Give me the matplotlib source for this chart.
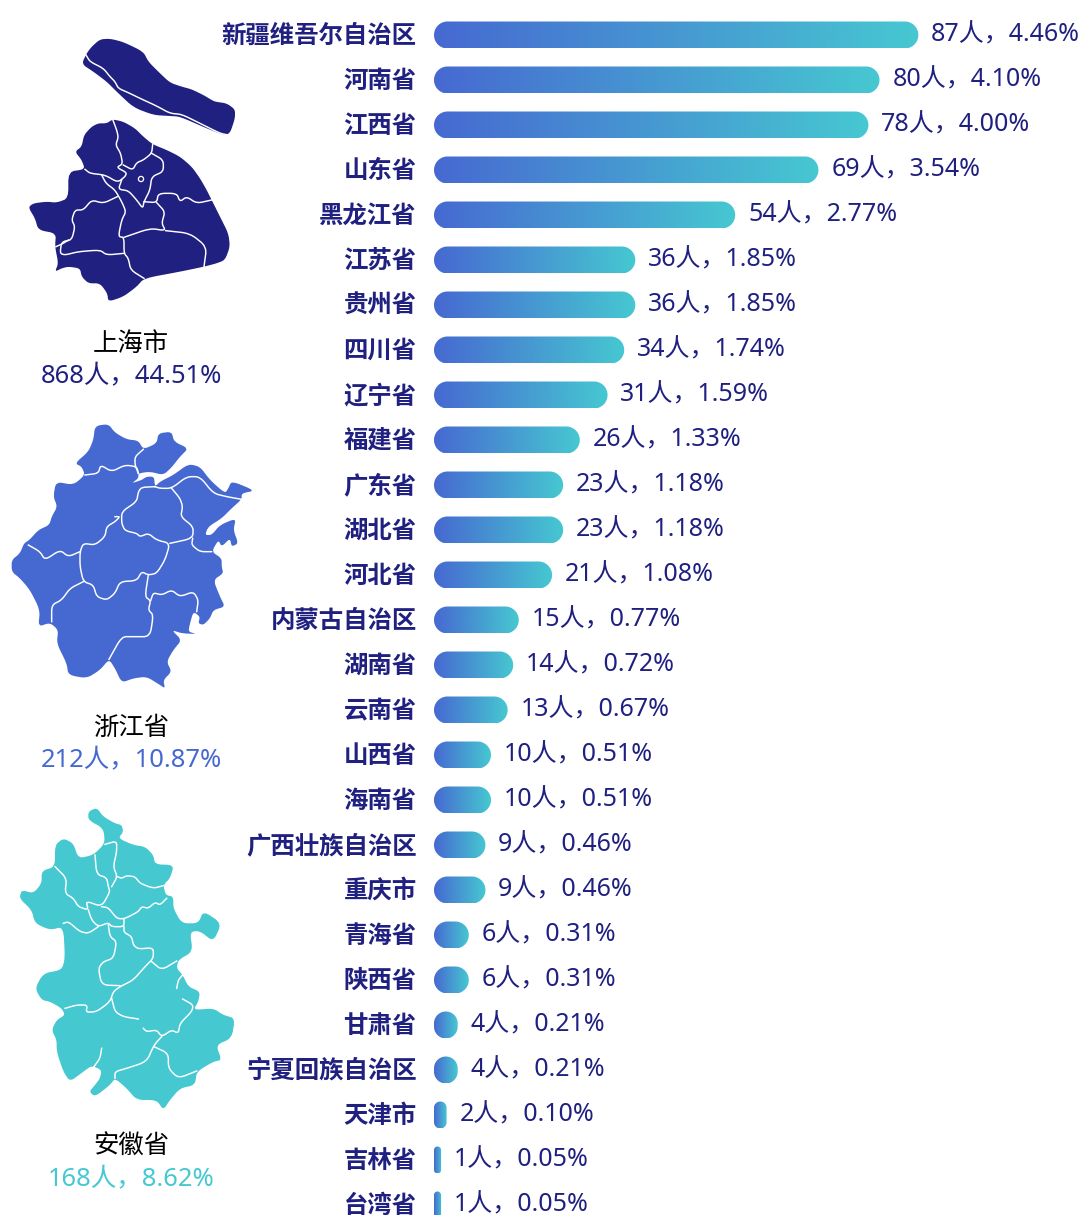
import numpy as np
import matplotlib
matplotlib.use("Agg")
import matplotlib.pyplot as plt
from matplotlib.colors import LinearSegmentedColormap
from matplotlib.patches import Polygon, Circle
from matplotlib.transforms import ScaledTranslation

plt.rcParams['font.family'] = ['Noto Sans', 'Noto Sans CJK SC', 'DejaVu Sans']

# ranking of the other provinces
provinces = ["新疆维吾尔自治区", "河南省", "江西省", "山东省", "黑龙江省", "江苏省", "贵州省", "四川省", "辽宁省",
             "福建省", "广东省", "湖北省", "河北省", "内蒙古自治区", "湖南省", "云南省", "山西省", "海南省",
             "广西壮族自治区", "重庆市", "青海省", "陕西省", "甘肃省", "宁夏回族自治区", "天津市", "吉林省", "台湾省"]
counts = [87, 80, 78, 69, 54, 36, 36, 34, 31, 26, 23, 23, 21, 15, 14, 13, 10, 10, 9, 9, 6, 6, 4, 4, 2, 1, 1]
percents = [4.46, 4.10, 4.00, 3.54, 2.77, 1.85, 1.85, 1.74, 1.59, 1.33, 1.18, 1.18, 1.08, 0.77, 0.72, 0.67,
            0.51, 0.51, 0.46, 0.46, 0.31, 0.31, 0.21, 0.21, 0.10, 0.05, 0.05]

# top three provinces, shown as maps
top_names = ["上海市", "浙江省", "安徽省"]
top_counts = [868, 212, 168]
top_percents = [44.51, 10.87, 8.62]

NAVY = "#1f2080"
BLUE = "#4669d1"
CYAN = "#46c8d1"
W, H = 1085, 1215

# map outlines at 3x: x, y relative to each crop origin
sh_island = [(300,58),(330,56),(370,66),(430,95),(445,125),(480,160),(510,188),(545,200),(575,208),(610,225),(635,240),(645,245),(680,250),(705,268),(705,295),(690,340),(670,345),(620,325),(540,290),(510,288),(460,285),(400,262),(350,215),(320,185),(280,155),(245,132),(260,100),(275,80)]
sh_main = [(338,298),(370,305),(405,325),(430,350),(458,373),(500,390),(540,410),(575,440),(600,475),(620,510),(635,540),(660,590),(685,640),(690,680),(675,720),(650,730),(612,740),(540,755),(432,775),(410,800),(370,830),(325,845),(322,820),(300,790),(265,790),(245,770),(240,745),(205,740),(185,745),(165,755),(175,730),(165,680),(168,640),(115,630),(105,595),(85,562),(100,550),(140,545),(170,548),(205,535),(205,455),(255,448),(245,420),(225,395),(245,380),(252,345),(275,320),(295,310),(320,310)]
sh_lines = [
    [(258,105),(270,125),(310,145),(330,170),(345,185),(355,205),(385,218),(420,235),(470,258),(510,280),(545,283),(600,310),(660,340),(685,345)],
    [(338,298),(350,330),(355,352),(347,375),(362,400),(368,432),(350,442),(380,458),(375,470),(353,487),(315,465),(270,460),(255,448)],
    [(458,373),(455,400),(430,420),(410,428),(398,450),(370,435)],
    [(455,400),(490,420),(490,455),(455,470),(450,510),(432,545),(428,565),(410,540),(385,512),(355,508),(365,480)],
    [(305,465),(318,490),(345,510),(365,545),(378,575),(365,600),(355,650),(372,652),(372,700),(385,715),(392,750),(432,775)],
    [(352,530),(310,550),(275,540),(250,570),(225,570),(215,600),(225,620),(215,660),(185,665),(180,700),(195,705),(235,695),(300,690),(320,705),(372,700)],
    [(205,660),(190,670),(168,680)],
    [(432,545),(470,548),(475,520),(530,520),(540,545),(560,530),(590,550),(635,540)],
    [(470,548),(495,575),(485,610),(497,632),(450,625),(372,652)],
    [(497,632),(570,640),(620,680),(612,740)],
]
zj_main = [(285,48),(325,42),(345,68),(380,88),(415,92),(430,118),(470,100),(475,70),(515,65),(522,95),(565,115),(540,140),(515,172),(490,195),(450,185),(415,190),(415,205),(395,220),(425,210),(440,200),(462,200),(465,230),(480,215),(520,195),(565,162),(600,170),(630,210),(675,250),(685,235),(695,213),(765,242),(725,250),(725,268),(695,295),(665,325),(625,350),(615,375),(635,375),(660,345),(708,325),(700,360),(715,400),(695,410),(690,385),(665,410),(655,390),(635,425),(665,445),(665,470),(670,490),(640,510),(660,560),(675,590),(640,600),(630,625),(610,645),(595,640),(600,620),(580,605),(570,640),(565,665),(590,672),(545,670),(515,660),(545,690),(520,720),(500,755),(515,785),(490,810),(495,835),(480,825),(440,800),(400,805),(365,818),(345,775),(327,748),(300,780),(260,805),(205,795),(200,760),(170,700),(175,660),(150,638),(115,650),(120,600),(90,540),(60,505),(35,485),(35,450),(60,430),(72,400),(88,390),(115,360),(148,345),(155,320),(172,290),(160,260),(168,215),(220,225),(255,195),(245,170),(225,160),(265,125),(280,90)]
zj_lines = [
    [(255,195),(295,190),(302,165),(335,185),(375,165),(410,170),(415,190)],
    [(430,118),(405,140),(405,165),(415,190)],
    [(465,230),(425,232),(415,245),(410,275),(365,305),(365,340),(375,362),(410,370),(420,380),(445,370),(470,390),(510,400),(495,450),(470,490),(445,495),(425,485),(410,512),(360,515),(345,550),(320,570),(290,560),(280,525),(250,515),(240,470),(240,425),(250,400),(285,405),(315,380),(320,350),(345,335),(360,320),(345,320)],
    [(465,230),(480,235),(515,235),(560,200),(600,200),(640,250),(680,260),(725,268)],
    [(515,235),(540,265),(548,290),(542,320),(580,350),(578,385),(510,400)],
    [(578,385),(575,405),(600,425),(635,425)],
    [(85,405),(120,425),(135,450),(180,420),(205,440),(240,425)],
    [(250,515),(210,535),(185,570),(155,585),(155,635)],
    [(445,495),(435,560),(452,572),(445,600),(460,615),(450,680),(400,680),(365,680),(327,748)],
    [(452,572),(460,548),(485,555),(515,540),(540,560),(580,545),(595,570),(590,605)],
]
ah_main = [(265,50),(290,38),(310,65),(345,85),(365,90),(370,110),(355,130),(400,150),(435,155),(460,180),(465,208),(522,210),(510,250),(490,270),(497,300),(520,305),(520,340),(545,385),(595,385),(610,348),(665,385),(640,440),(600,408),(570,410),(578,470),(535,495),(530,520),(548,540),(565,575),(600,590),(595,620),(580,645),(640,640),(670,660),(705,670),(695,730),(648,750),(665,795),(640,800),(590,830),(585,870),(540,880),(510,915),(490,945),(470,915),(410,915),(380,880),(345,850),(330,870),(285,905),(268,890),(285,870),(300,850),(305,825),(275,812),(250,830),(210,860),(190,830),(170,770),(170,735),(155,705),(170,675),(195,660),(185,640),(150,620),(125,615),(105,580),(130,535),(185,525),(195,490),(190,395),(150,405),(105,385),(95,345),(58,310),(65,285),(100,295),(125,265),(125,228),(165,215),(165,150),(190,130),(220,145),(235,190),(280,180),(315,145),(310,100),(265,75)]
ah_lines = [
    [(165,215),(200,250),(195,295),(220,310),(235,335),(265,345),(258,318),(305,335),(330,290),(325,275),(320,248),(290,238),(285,180)],
    [(315,148),(350,138),(350,170),(340,215),(352,245),(335,275)],
    [(352,245),(365,250),(380,242),(405,245),(420,265),(460,280),(490,272)],
    [(305,335),(325,338),(350,370),(372,372),(415,350),(425,335),(445,340),(465,322),(480,330),(500,310)],
    [(265,345),(275,375),(295,395),(325,383),(335,395),(372,395),(372,372)],
    [(190,385),(205,380),(240,410),(265,415),(295,395)],
    [(325,390),(330,425),(350,440),(340,490),(310,500),(295,520),(305,570),(360,572)],
    [(372,395),(372,412),(395,425),(400,450),(415,462),(460,458),(460,490),(435,515),(400,555),(360,575),(340,590),(330,620),(290,650),(258,652),(262,630),(230,630),(195,640)],
    [(455,500),(485,525),(530,498)],
    [(335,610),(345,650),(370,665),(415,672)],
    [(548,540),(535,555),(530,580)],
    [(548,612),(580,630),(575,650),(540,685),(535,715),(515,705),(485,725),(470,705),(440,710),(430,700)],
    [(485,725),(462,750),(440,800),(380,820),(345,830),(345,850)],
    [(462,755),(505,775),(505,820),(535,850),(590,828)],
    [(305,760),(300,790),(282,815)],
]


def crop(points, origin):
    # crop coordinates (3x) back to figure pixels
    pts = np.array(points, dtype=float) / 3
    return pts + np.array(origin)


def soften(pts, closed, rounds=2):
    # corner cutting, the traced outlines are too angular otherwise
    for _ in range(rounds):
        a = pts if closed else pts[:-1]
        b = np.roll(pts, -1, axis=0) if closed else pts[1:]
        cut = np.empty((len(a) * 2, 2))
        cut[0::2] = 0.8 * a + 0.2 * b
        cut[1::2] = 0.2 * a + 0.8 * b
        if not closed:
            cut = np.vstack([pts[0], cut, pts[-1]])
        pts = cut
    return pts


def draw_map(ax, shapes, lines, origin, color):
    for shape in shapes:
        ax.add_patch(Polygon(soften(crop(shape, origin), True), closed=True, facecolor=color, edgecolor="none"))
    for line in lines:
        pts = soften(crop(line, origin), False)
        ax.plot(pts[:, 0], pts[:, 1], color="white", lw=1.05, solid_joinstyle="round")


def pill(w, y, half_h, rx, ry):
    # rounded bar outline in data units, ends are quarter ellipses
    t = np.linspace(0, np.pi / 2, 24)
    right_top = np.column_stack([w - rx + rx * np.sin(t), y - half_h + ry - ry * np.cos(t)])
    right_bot = np.column_stack([w - rx + rx * np.cos(t), y + half_h - ry + ry * np.sin(t)])
    left_bot = np.column_stack([rx - rx * np.sin(t), y + half_h - ry + ry * np.cos(t)])
    left_top = np.column_stack([rx - rx * np.cos(t), y - half_h + ry - ry * np.sin(t)])
    return np.vstack([right_top, right_bot, left_bot, left_top])


fig = plt.figure(figsize=(W / 100, H / 100), dpi=100)

# left column in figure pixels
map_ax = fig.add_axes([0, 0, 1, 1])
map_ax.set_xlim(0, W)
map_ax.set_ylim(H, 0)
map_ax.axis("off")

draw_map(map_ax, [sh_island, sh_main], sh_lines, (0, 20), NAVY)
map_ax.add_patch(Circle((141, 179), 2.6, facecolor=NAVY, edgecolor="white", lw=0.9))
draw_map(map_ax, [zj_main], zj_lines, (0, 410), BLUE)
draw_map(map_ax, [ah_main], ah_lines, (0, 795), CYAN)

top_colors = [NAVY, BLUE, CYAN]
name_y = [344, 728, 1147]
for name, cnt, pct, col, y in zip(top_names, top_counts, top_percents, top_colors, name_y):
    map_ax.text(131, y, name, ha="center", va="center", fontsize=18.3, color="black")
    map_ax.text(131, y + 33, f"{cnt}人，{pct:.2f}%", ha="center", va="center", fontsize=18.4, color=col)

# bars
bar_left = 434
px_per_person = 5.55
row_px = 45
first_row = 35
half_h = 13.5 / row_px
pad = 1.5 / px_per_person

ax = fig.add_axes([bar_left / W, 0, 1 - bar_left / W, 1])
ax.patch.set_alpha(0)
cmap = LinearSegmentedColormap.from_list("bar", [BLUE, CYAN])
gradient = np.linspace(0, 1, 256).reshape(1, -1)

for i, (cnt, pct) in enumerate(zip(counts, percents)):
    w = cnt + pad
    r_px = min(13.5, w * px_per_person / 2)
    box = Polygon(pill(w, i, half_h, r_px / px_per_person, r_px / row_px), closed=True,
                  facecolor="none", edgecolor="none")
    ax.add_patch(box)
    im = ax.imshow(gradient, cmap=cmap, aspect="auto", extent=(0, w, i + half_h, i - half_h))
    im.set_clip_path(box)
    ax.annotate(f"{cnt}人，{pct:.2f}%", (w, i), xytext=(9.2, 0), textcoords="offset points",
                ha="left", va="center", fontsize=18, color=NAVY, annotation_clip=False)

ax.set_xlim(0, (W - bar_left) / px_per_person)
ax.set_ylim((H - first_row) / row_px, -first_row / row_px)
ax.set_yticks(range(len(provinces)))
ax.set_yticklabels(provinces, fontsize=17.6, fontweight="bold", color=NAVY)
ax.set_xticks([])
ax.tick_params(axis="y", length=0, pad=12.5)
for lab in ax.get_yticklabels():
    lab.set_transform(lab.get_transform() + ScaledTranslation(0, 0.01, fig.dpi_scale_trans))
for side in ax.spines.values():
    side.set_visible(False)

fig.savefig("out.png", dpi=100)
